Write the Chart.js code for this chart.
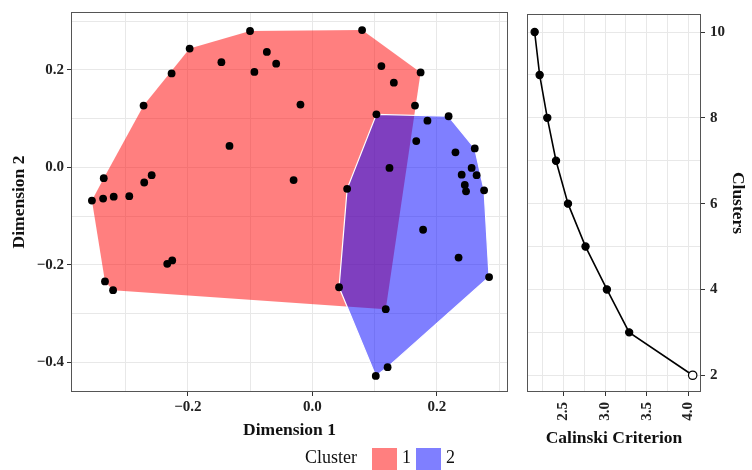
<!DOCTYPE html>
<html>
<head>
<meta charset="utf-8">
<script src="https://cdn.jsdelivr.net/npm/chart.js@4"></script>
<style>
  html, body { margin: 0; padding: 0; background: #fff; overflow: hidden; }
  body { width: 752px; height: 470px; position: relative; font-family: "Liberation Serif", serif; }
  #left { position: absolute; left: 0; top: 0; }
  #right { position: absolute; left: 512px; top: 0; }
  .legend { position: absolute; font-size: 18px; color: #111; }
  .key { position: absolute; top: 448px; width: 25px; height: 24px; }
</style>
</head>
<body>
<canvas id="left" width="512" height="450"></canvas>
<canvas id="right" width="240" height="450"></canvas>
<div class="legend" style="left:305px; top:447px;">Cluster</div>
<div class="key" style="left:372px; background:rgba(255,0,0,0.5);"></div>
<div class="legend" style="left:402px; top:447px;">1</div>
<div class="key" style="left:416px; background:rgba(0,0,255,0.5);"></div>
<div class="legend" style="left:446px; top:447px;">2</div>
<script>
// cluster 1 (red) coordinates
const c1x = [-0.100, -0.197, -0.226, -0.146, -0.073, -0.093, -0.058, -0.271, -0.019, -0.133,
             -0.335, -0.258, -0.270, -0.030, -0.354, -0.336, -0.319, -0.294, -0.233, -0.225,
             -0.333, -0.320, 0.080, 0.111, 0.174, 0.131, 0.165, 0.118];
const c1y = [0.280, 0.244, 0.193, 0.216, 0.237, 0.196, 0.213, 0.127, 0.129, 0.044,
             -0.022, -0.016, -0.031, -0.026, -0.068, -0.064, -0.060, -0.059, -0.198, -0.191,
             -0.234, -0.252, 0.282, 0.208, 0.195, 0.174, 0.127, -0.291];
// cluster 2 (blue) coordinates
const c2x = [0.103, 0.219, 0.185, 0.167, 0.261, 0.230, 0.256, 0.240, 0.264, 0.245,
             0.247, 0.276, 0.056, 0.124, 0.178, 0.235, 0.284, 0.043, 0.121, 0.102];
const c2y = [0.109, 0.105, 0.096, 0.054, 0.039, 0.031, -0.001, -0.015, -0.016, -0.036,
             -0.049, -0.047, -0.044, -0.001, -0.128, -0.185, -0.225, -0.246, -0.410, -0.428];

// calinski criterion per number of clusters
const clusters = [10, 9, 8, 7, 6, 5, 4, 3, 2];
const calinski = [2.152, 2.212, 2.304, 2.409, 2.553, 2.764, 3.021, 3.289, 4.053];

// ticks
const dim1Ticks = [-0.3, -0.2, -0.1, 0.0, 0.1, 0.2, 0.3];
const dim2Ticks = [-0.4, -0.3, -0.2, -0.1, 0.0, 0.1, 0.2, 0.3];
const dimLabels = [-0.4, -0.2, 0.0, 0.2];
const calTicks = [2.25, 2.5, 2.75, 3.0, 3.25, 3.5, 3.75, 4.0];
const calLabels = [2.5, 3.0, 3.5, 4.0];
const clusterTicks = [2, 3, 4, 5, 6, 7, 8, 9, 10];
const clusterLabels = [2, 4, 6, 8, 10];

const RED = 'rgba(255,0,0,0.5)';
const BLUE = 'rgba(0,0,255,0.5)';
const GRID = '#e8e8e8';
const FRAME = '#555';
const tickFont = { family: 'Liberation Serif', size: 15, weight: 'bold' };
const titleFont = { family: 'Liberation Serif', size: 17.5, weight: 'bold' };

const isLabel = (list, v) => list.some(l => Math.abs(l - v) < 1e-9);
const fmt = v => (Math.abs(v) < 1e-9 ? 0 : v).toFixed(1).replace('-', '\u2212');

function pts(xs, ys) { return xs.map((x, i) => ({ x, y: ys[i] })); }

function hull(points) {
  const p = points.slice().sort((a, b) => a.x - b.x || a.y - b.y);
  const cross = (o, a, b) => (a.x - o.x) * (b.y - o.y) - (a.y - o.y) * (b.x - o.x);
  const lower = [], upper = [];
  for (const q of p) {
    while (lower.length >= 2 && cross(lower[lower.length - 2], lower[lower.length - 1], q) <= 0) lower.pop();
    lower.push(q);
  }
  for (let i = p.length - 1; i >= 0; i--) {
    const q = p[i];
    while (upper.length >= 2 && cross(upper[upper.length - 2], upper[upper.length - 1], q) <= 0) upper.pop();
    upper.push(q);
  }
  return lower.slice(0, -1).concat(upper.slice(0, -1));
}

const framePlugin = {
  id: 'frame',
  afterDatasetsDraw(chart) {
    const { ctx, chartArea: a } = chart;
    ctx.save();
    ctx.strokeStyle = FRAME;
    ctx.lineWidth = 1;
    ctx.strokeRect(a.left + 0.5, a.top + 0.5, a.right - a.left - 1, a.bottom - a.top - 1);
    ctx.restore();
  }
};

const hullPlugin = {
  id: 'hulls',
  beforeDatasetsDraw(chart) {
    const { ctx, scales: { x, y } } = chart;
    const groups = [
      { p: pts(c1x, c1y), fill: RED, stroke: null },
      { p: pts(c2x, c2y), fill: BLUE, stroke: '#fff' }
    ];
    ctx.save();
    for (const g of groups) {
      const h = hull(g.p);
      ctx.beginPath();
      h.forEach((q, i) => {
        const px = x.getPixelForValue(q.x), py = y.getPixelForValue(q.y);
        if (i === 0) ctx.moveTo(px, py); else ctx.lineTo(px, py);
      });
      ctx.closePath();
      ctx.fillStyle = g.fill;
      ctx.fill();
      if (g.stroke) {
        ctx.strokeStyle = g.stroke;
        ctx.lineWidth = 1.2;
        ctx.stroke();
      }
    }
    ctx.restore();
  }
};

function gridOpts(labels) {
  return {
    color: GRID,
    lineWidth: 1,
    drawTicks: true,
    tickLength: 4,
    tickColor: c => isLabel(labels, c.tick.value) ? '#333' : 'rgba(0,0,0,0)'
  };
}

new Chart(document.getElementById('left'), {
  type: 'scatter',
  data: {
    datasets: [
      { label: '1', data: pts(c1x, c1y), backgroundColor: '#000', borderWidth: 0, pointRadius: 3.9 },
      { label: '2', data: pts(c2x, c2y), backgroundColor: '#000', borderWidth: 0, pointRadius: 3.9 }
    ]
  },
  options: {
    responsive: false,
    animation: false,
    layout: { padding: { top: 10, right: 4, left: 0, bottom: 0 } },
    plugins: { legend: { display: false }, tooltip: { enabled: false } },
    scales: {
      x: {
        type: 'linear', min: -0.3876, max: 0.3144,
        afterBuildTicks: s => { s.ticks = dim1Ticks.map(v => ({ value: v })); },
        afterFit: s => { s.height = 58; },
        grid: gridOpts(dimLabels),
        border: { display: false },
        ticks: { color: '#222', font: tickFont, padding: 2, maxRotation: 0,
          callback: v => isLabel(dimLabels, v) ? fmt(v) : '' },
        title: { display: true, text: 'Dimension 1', color: '#111', font: titleFont, padding: { top: 0, bottom: 9 } }
      },
      y: {
        type: 'linear', min: -0.461, max: 0.319,
        afterBuildTicks: s => { s.ticks = dim2Ticks.map(v => ({ value: v })); },
        afterFit: s => { s.width = 71; },
        grid: gridOpts(dimLabels),
        border: { display: false },
        ticks: { color: '#222', font: tickFont, padding: 3,
          callback: v => isLabel(dimLabels, v) ? fmt(v) : '' },
        title: { display: true, text: 'Dimension 2', color: '#111', font: titleFont, padding: { top: 9, bottom: 0 } }
      }
    }
  },
  plugins: [hullPlugin, framePlugin]
});

const best = 2;
new Chart(document.getElementById('right'), {
  type: 'scatter',
  data: {
    datasets: [{
      data: calinski.map((c, i) => ({ x: c, y: clusters[i] })),
      showLine: true,
      borderColor: '#000',
      borderWidth: 1.6,
      pointBorderColor: '#000',
      pointBorderWidth: 1.2,
      pointBackgroundColor: c => clusters[c.dataIndex] === best ? '#fff' : '#000',
      pointRadius: c => clusters[c.dataIndex] === best ? 4.2 : 3.6
    }]
  },
  options: {
    responsive: false,
    animation: false,
    layout: { padding: { top: 10, right: 0, left: 15, bottom: 0 } },
    plugins: { legend: { display: false }, tooltip: { enabled: false } },
    scales: {
      x: {
        type: 'linear', min: 2.06, max: 4.153,
        afterBuildTicks: s => { s.ticks = calTicks.map(v => ({ value: v })); },
        afterFit: s => { s.height = 58; },
        grid: gridOpts(calLabels),
        border: { display: false },
        ticks: { color: '#222', font: tickFont, padding: 6, minRotation: 90, maxRotation: 90, autoSkip: false,
          callback: v => isLabel(calLabels, v) ? v.toFixed(1) : '' },
        title: { display: true, text: 'Calinski Criterion', color: '#111', font: titleFont, padding: { top: 0, bottom: 1 } }
      },
      y: {
        type: 'linear', position: 'right', min: 1.61, max: 10.42,
        afterBuildTicks: s => { s.ticks = clusterTicks.map(v => ({ value: v })); },
        afterFit: s => { s.width = 51; },
        grid: gridOpts(clusterLabels),
        border: { display: false },
        ticks: { color: '#222', font: tickFont, padding: 5,
          callback: v => isLabel(clusterLabels, v) ? String(v) : '' },
        title: { display: true, text: 'Clusters', color: '#111', font: titleFont, padding: { top: 4, bottom: 0 } }
      }
    }
  },
  plugins: [framePlugin]
});
</script>
</body>
</html>
